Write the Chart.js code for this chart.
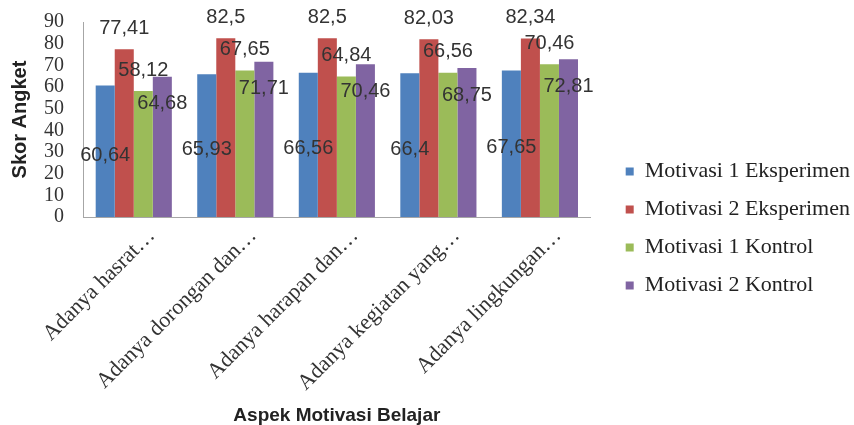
<!DOCTYPE html>
<html lang="id">

<head>
    <meta charset="UTF-8">
    <title>Skor Angket</title>
    <script src="https://cdn.jsdelivr.net/npm/chart.js"></script>
    <style>
        body { margin: 0; background: #fff; }
        .box-grafico { width: 854px; height: 425px; }
    </style>
</head>

<body>
    <div class="box-grafico">
        <canvas id="grafico-motivasi"></canvas>
    </div>

<script>
    // data
    const aspek = ['Adanya hasrat…', 'Adanya dorongan dan…', 'Adanya harapan dan…', 'Adanya kegiatan yang…', 'Adanya lingkungan…'];
    const namaSeri = ['Motivasi 1 Eksperimen', 'Motivasi 2 Eksperimen', 'Motivasi 1 Kontrol', 'Motivasi 2 Kontrol'];
    const motivasi1Eksperimen = [60.64, 65.93, 66.56, 66.4, 67.65];
    const motivasi2Eksperimen = [77.41, 82.5, 82.5, 82.03, 82.34];
    const motivasi1Kontrol = [58.12, 67.65, 64.84, 66.56, 70.46];
    const motivasi2Kontrol = [64.68, 71.71, 70.46, 68.75, 72.81];
    const yTicks = [0, 10, 20, 30, 40, 50, 60, 70, 80, 90];

    const cores = ['#4F81BD', '#C0504D', '#9BBB59', '#8064A2'];
    const serif = 'Liberation Serif';
    const sans = 'Liberation Sans';

    // value labels, drawn from the bar elements (no plugin available offline)
    const rotulos = {
        id: 'rotulos',
        afterDatasetsDraw(chart, args, opts) {
            const ctx = chart.ctx;
            ctx.save();
            ctx.font = opts.font;
            ctx.fillStyle = opts.color;
            ctx.textAlign = 'center';
            ctx.textBaseline = 'middle';
            chart.data.datasets.forEach(function (ds, i) {
                const meta = chart.getDatasetMeta(i);
                const lugar = opts.lugar[i];
                meta.data.forEach(function (bar, j) {
                    let y;
                    if (lugar == 'meio') {
                        y = (bar.y + bar.base) / 2 + opts.desvioMeio;
                    } else if (lugar == 'acima') {
                        y = bar.y - opts.acima;
                    } else {
                        y = bar.y + opts.dentro;
                    }
                    ctx.fillText(String(ds.data[j]).replace('.', ','), bar.x, y);
                });
            });
            ctx.restore();
        }
    };

    const series = [motivasi1Eksperimen, motivasi2Eksperimen, motivasi1Kontrol, motivasi2Kontrol];

    const dados = {
        labels: aspek,
        datasets: series.map(function (valores, i) {
            return {
                label: namaSeri[i],
                data: valores,
                backgroundColor: cores[i],
                categoryPercentage: 0.75,
                barPercentage: 1
            };
        })
    };

    const config = {
        type: 'bar',
        data: dados,
        plugins: [rotulos],
        options: {
            responsive: true,
            maintainAspectRatio: false,
            animation: false,
            layout: { padding: { top: 22, right: -6, bottom: 0, left: 0 } },
            scales: {
                x: {
                    grid: { display: false, drawTicks: false },
                    border: { display: true, color: '#a6a6a6', width: 1 },
                    ticks: {
                        minRotation: 45,
                        maxRotation: 45,
                        autoSkip: false,
                        padding: 6,
                        labelOffset: 18,
                        color: '#333',
                        font: { family: serif, size: 22 }
                    },
                    title: {
                        display: true,
                        text: 'Aspek Motivasi Belajar',
                        color: '#222',
                        font: { family: sans, size: 19, weight: 'bold', lineHeight: 1 },
                        padding: { top: 2, bottom: 0 }
                    },
                    afterFit: function (scale) { scale.height = 208; }
                },
                y: {
                    min: 0,
                    max: 90,
                    afterBuildTicks: function (scale) {
                        scale.ticks = yTicks.map(function (v) { return { value: v }; });
                    },
                    // tick marks are hidden; their length only pushes the labels left
                    grid: { display: false, drawTicks: true, tickLength: 16 },
                    border: { display: true, color: '#a6a6a6', width: 1 },
                    ticks: {
                        autoSkip: false,
                        padding: 3,
                        color: '#333',
                        font: { family: serif, size: 20 }
                    },
                    title: {
                        display: true,
                        text: 'Skor Angket',
                        color: '#222',
                        font: { family: sans, size: 20, weight: 'bold' },
                        padding: { top: 8, bottom: 0 }
                    },
                    afterFit: function (scale) { scale.width = 83; }
                },
                espaco: {
                    type: 'linear',
                    position: 'right',
                    display: true,
                    grid: { display: false, drawTicks: false },
                    border: { display: false },
                    ticks: { display: false },
                    afterFit: function (scale) { scale.width = 19; }
                }
            },
            plugins: {
                legend: {
                    position: 'right',
                    maxWidth: 300,
                    title: {
                        display: true,
                        text: ' ',
                        font: { size: 1 },
                        padding: { top: 9, bottom: 0 }
                    },
                    labels: {
                        boxWidth: 8,
                        boxHeight: 8,
                        padding: 16,
                        color: '#222',
                        font: { family: serif, size: 22 }
                    }
                },
                tooltip: { enabled: false },
                rotulos: {
                    font: '20px "Liberation Sans"',
                    color: '#333',
                    lugar: ['meio', 'acima', 'acima', 'dentro'],
                    desvioMeio: 4,
                    acima: 21,
                    dentro: 27
                }
            }
        }
    };

    let grafico = new Chart(document.getElementById('grafico-motivasi'), config);
</script>
</body>

</html>
